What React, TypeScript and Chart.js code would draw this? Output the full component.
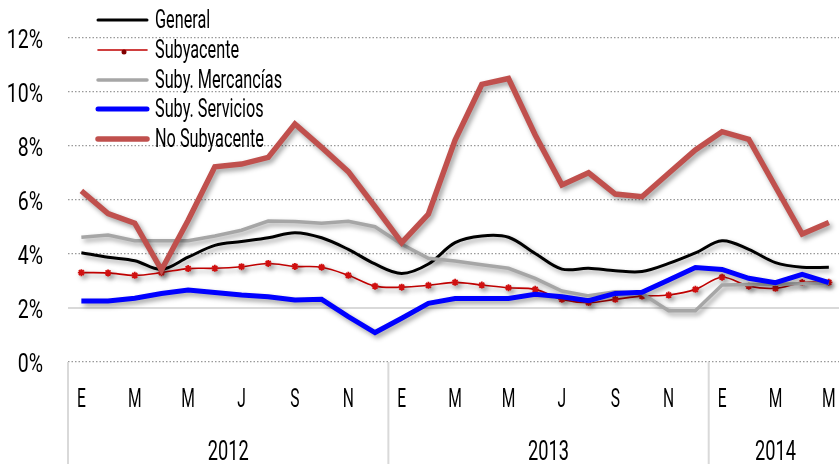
import React, { useEffect, useRef } from 'react';
import { Chart, registerables } from 'chart.js';

Chart.register(...registerables);

// ---------- DATA ----------
const monthLabels = [
  'E', 'F', 'M', 'A', 'M', 'J', 'J', 'A', 'S', 'O', 'N', 'D',
  'E', 'F', 'M', 'A', 'M', 'J', 'J', 'A', 'S', 'O', 'N', 'D',
  'E', 'F', 'M', 'A', 'M',
];
const yearLabels = ['2012', '2013', '2014'];
const yearStartIndex = [0, 12, 24];

const general = [4.05, 3.88, 3.75, 3.43, 3.88, 4.32, 4.46, 4.6, 4.79, 4.6, 4.17, 3.63, 3.28, 3.63, 4.42, 4.67, 4.62, 4.02, 3.44, 3.47, 3.38, 3.35, 3.65, 4.04, 4.49, 4.17, 3.68, 3.51, 3.51];
const subyacente = [3.31, 3.3, 3.21, 3.31, 3.46, 3.47, 3.53, 3.65, 3.54, 3.51, 3.21, 2.81, 2.77, 2.84, 2.95, 2.85, 2.75, 2.69, 2.32, 2.2, 2.32, 2.44, 2.48, 2.69, 3.14, 2.81, 2.73, 2.94, 2.95];
const mercancias = [4.62, 4.7, 4.49, 4.49, 4.49, 4.67, 4.88, 5.22, 5.2, 5.14, 5.21, 5.01, 4.36, 3.84, 3.74, 3.6, 3.47, 3.1, 2.63, 2.45, 2.6, 2.54, 1.9, 1.9, 2.85, 2.87, 2.88, 2.9, 2.92];
const servicios = [2.26, 2.26, 2.36, 2.54, 2.67, 2.57, 2.48, 2.42, 2.3, 2.32, 1.68, 1.09, 1.62, 2.17, 2.35, 2.35, 2.35, 2.51, 2.42, 2.27, 2.54, 2.58, 3.04, 3.5, 3.43, 3.1, 2.94, 3.25, 2.94];
const noSubyacente = [6.34, 5.5, 5.14, 3.41, 5.25, 7.23, 7.33, 7.58, 8.82, 7.95, 7.05, 5.75, 4.42, 5.48, 8.22, 10.28, 10.5, 8.41, 6.56, 7.01, 6.22, 6.12, 6.99, 7.85, 8.53, 8.25, 6.49, 4.74, 5.17];

const seriesNames = ['General', 'Subyacente', 'Suby. Mercancías', 'Suby. Servicios', 'No Subyacente'];

const FONT = "Roboto, 'DejaVu Sans', sans-serif";

// draw horizontally-condensed text (the reference uses a condensed typeface)
function condensedText(ctx: CanvasRenderingContext2D, text: string, x: number, y: number, size: number, sx: number, align: CanvasTextAlign) {
  ctx.save();
  ctx.translate(x, y);
  ctx.scale(sx, 1);
  ctx.font = `${size}px ${FONT}`;
  ctx.fillStyle = '#000';
  ctx.textAlign = align;
  ctx.textBaseline = 'alphabetic';
  ctx.fillText(text, 0, 0);
  ctx.restore();
}

const decorPlugin = {
  id: 'decor',
  beforeDatasetsDraw(chart: any) {
    const { ctx, chartArea, scales } = chart;
    const y2 = scales.y.getPixelForValue(2);
    ctx.save();
    ctx.strokeStyle = '#D9D9D9';
    ctx.lineWidth = 2;
    ctx.beginPath();
    ctx.moveTo(chartArea.left, y2);
    ctx.lineTo(chartArea.right, y2);
    ctx.stroke();
    ctx.restore();
    ctx.save();
    ctx.shadowColor = 'rgba(0,0,0,0.38)';
    ctx.shadowBlur = 5;
    ctx.shadowOffsetX = 2.5;
    ctx.shadowOffsetY = 3;
  },
  afterDatasetsDraw(chart: any) {
    const { ctx } = chart;
    ctx.restore();
    // legend
    const rows = [20, 50, 80, 109, 139];
    chart.data.datasets.forEach((ds: any, i: number) => {
      const y = rows[i];
      ctx.save();
      ctx.strokeStyle = ds.borderColor;
      ctx.lineWidth = ds.borderWidth;
      ctx.lineCap = 'round';
      ctx.beginPath();
      ctx.moveTo(98, y);
      ctx.lineTo(147, y);
      ctx.stroke();
      if (ds.pointRadius > 0) {
        ctx.fillStyle = ds.pointBackgroundColor;
        ctx.beginPath();
        ctx.arc(124, y + 2, 2.5, 0, Math.PI * 2);
        ctx.fill();
      }
      ctx.restore();
      condensedText(ctx, ds.label, 155, y + 7.5, 25, 0.65, 'left');
    });
  },
  afterDraw(chart: any) {
    const { ctx, chartArea, scales, height } = chart;
    const xs = scales.x;
    const ys = scales.y;
    // y tick labels
    ys.ticks.forEach((t: any) => {
      const py = ys.getPixelForValue(t.value);
      condensedText(ctx, `${t.value}%`, 43, py + 10, 26, 0.75, 'right');
    });
    // month tick labels (every other month)
    xs.ticks.forEach((_t: any, i: number) => {
      if (i % 2 !== 0) return;
      const px = xs.getPixelForValue(i);
      condensedText(ctx, chart.data.labels[i], px, 407, 26, 0.6, 'center');
    });
    // year band separators and labels
    const bounds: number[] = yearStartIndex.map((idx) =>
      idx === 0 ? chartArea.left : (xs.getPixelForValue(idx - 1) + xs.getPixelForValue(idx)) / 2
    );
    ctx.save();
    ctx.strokeStyle = '#D9D9D9';
    ctx.lineWidth = 2;
    bounds.forEach((bx) => {
      ctx.beginPath();
      ctx.moveTo(bx, chartArea.bottom);
      ctx.lineTo(bx, height);
      ctx.stroke();
    });
    ctx.restore();
    yearLabels.forEach((lab, i) => {
      const a = bounds[i];
      const b = i + 1 < bounds.length ? bounds[i + 1] : chartArea.right;
      condensedText(ctx, lab, (a + b) / 2, 460, 28, 0.65, 'center');
    });
  },
};

export default function App() {
  const ref = useRef<HTMLCanvasElement | null>(null);

  useEffect(() => {
    if (!ref.current) return;
    const chart = new Chart(ref.current, {
      type: 'line',
      data: {
        labels: monthLabels,
        datasets: [
          {
            label: seriesNames[0],
            data: general,
            borderColor: '#000000',
            borderWidth: 3,
            tension: 0.35,
            pointRadius: 0,
            order: 4,
          },
          {
            label: seriesNames[1],
            data: subyacente,
            borderColor: '#C00000',
            borderWidth: 1.6,
            tension: 0.35,
            pointRadius: 3.5,
            pointStyle: 'star',
            pointBorderColor: '#D01010',
            pointBorderWidth: 1.8,
            pointBackgroundColor: '#800000',
            order: 3,
          },
          {
            label: seriesNames[2],
            data: mercancias,
            borderColor: '#A6A6A6',
            borderWidth: 3.5,
            tension: 0,
            pointRadius: 0,
            order: 2,
          },
          {
            label: seriesNames[3],
            data: servicios,
            borderColor: '#0000FF',
            borderWidth: 5,
            tension: 0,
            pointRadius: 0,
            order: 1,
          },
          {
            label: seriesNames[4],
            data: noSubyacente,
            borderColor: '#C0504D',
            borderWidth: 5.5,
            tension: 0,
            pointRadius: 0,
            order: 0,
          },
        ],
      },
      options: {
        animation: false,
        responsive: false,
        maintainAspectRatio: false,
        layout: { padding: { top: 38, left: 0, right: 0, bottom: 0 } },
        plugins: {
          legend: { display: false },
          tooltip: { enabled: false },
        },
        scales: {
          x: {
            type: 'category',
            offset: true,
            grid: { display: false, drawTicks: false },
            border: { display: false },
            ticks: { display: false, autoSkip: false, maxRotation: 0 },
            afterFit: (s: any) => {
              s.height = 102;
            },
          },
          y: {
            min: 0,
            max: 12,
            grid: { color: '#999999', lineWidth: 1.3, drawTicks: false, borderDash: [1.5, 2] } as any,
            border: { display: false, dash: [1.5, 2] },
            ticks: { display: false, stepSize: 2 },
            afterFit: (s: any) => {
              s.width = 68;
            },
          },
        },
      },
      plugins: [decorPlugin],
    } as any);
    return () => chart.destroy();
  }, []);

  return (
    <div style={{ position: 'absolute', left: 0, top: 0, width: 839, height: 464, overflow: 'hidden', background: '#fff' }}>
      <canvas ref={ref} width={848} height={464} style={{ display: 'block', width: 848, height: 464 }} />
    </div>
  );
}
